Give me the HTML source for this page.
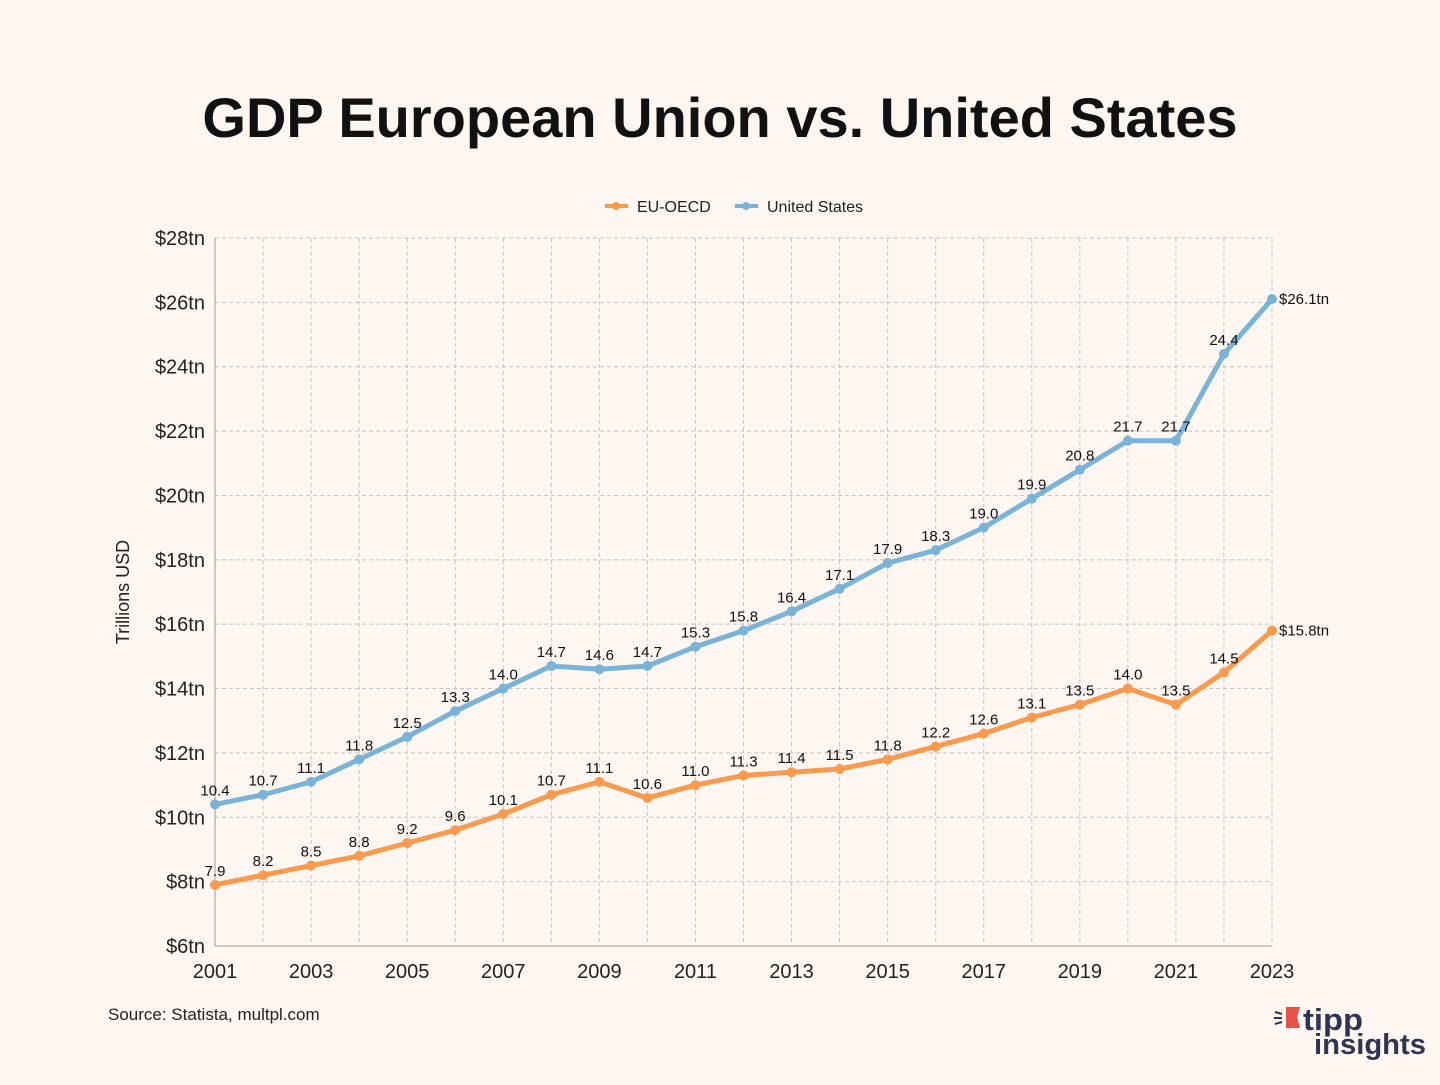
<!DOCTYPE html>
<html><head><meta charset="utf-8"><style>
body{margin:0;background:#fdf6f1;width:1440px;height:1080px;overflow:hidden;font-family:"Liberation Sans",sans-serif}
</style></head><body>
<svg id="c" width="1440" height="1080" xmlns="http://www.w3.org/2000/svg">
<rect width="1440" height="1080" fill="#fdf6f1"/>
<text x="720" y="137" text-anchor="middle" font-size="56" font-weight="bold" fill="#111">GDP European Union vs. United States</text>
<g>
<g><line x1="605" y1="206" x2="628" y2="206" stroke="#f99a4e" stroke-width="4"/><circle cx="616" cy="206" r="4" fill="#f99a4e"/><text x="637" y="212" font-size="16" fill="#222">EU-OECD</text></g>
<g><line x1="735" y1="206" x2="758" y2="206" stroke="#79b4d8" stroke-width="4"/><circle cx="746" cy="206" r="4" fill="#79b4d8"/><text x="767" y="212" font-size="16" fill="#222">United States</text></g>
</g>
<text transform="translate(129,592) rotate(-90)" text-anchor="middle" font-size="18" fill="#222">Trillions USD</text>
<text x="108" y="1020" font-size="17" fill="#222">Source: Statista, multpl.com</text>
<g>
<polygon points="1286,1007 1300,1007 1297,1017 1300,1028 1286,1028" fill="#e8504a"/>
<line x1="1275" y1="1012" x2="1282" y2="1014" stroke="#2f3452" stroke-width="2"/><line x1="1274" y1="1018" x2="1282" y2="1018" stroke="#2f3452" stroke-width="2"/><line x1="1275" y1="1024" x2="1282" y2="1022" stroke="#2f3452" stroke-width="2"/>
<text x="1303" y="1030" font-size="31" font-weight="bold" fill="#2f3452" textLength="60" lengthAdjust="spacingAndGlyphs">tipp</text>
<text x="1314" y="1054" font-size="29" font-weight="bold" fill="#2f3452" textLength="112" lengthAdjust="spacingAndGlyphs">insights</text>
</g>
<g id="plot"></g>
</svg>
<script>
const years=[2001,2002,2003,2004,2005,2006,2007,2008,2009,2010,2011,2012,2013,2014,2015,2016,2017,2018,2019,2020,2021,2022,2023];
const euValues=[7.9,8.2,8.5,8.8,9.2,9.6,10.1,10.7,11.1,10.6,11.0,11.3,11.4,11.5,11.8,12.2,12.6,13.1,13.5,14.0,13.5,14.5,15.8];
const usValues=[10.4,10.7,11.1,11.8,12.5,13.3,14.0,14.7,14.6,14.7,15.3,15.8,16.4,17.1,17.9,18.3,19.0,19.9,20.8,21.7,21.7,24.4,26.1];
const yTicks=[6,8,10,12,14,16,18,20,22,24,26,28];
const xTickYears=[2001,2003,2005,2007,2009,2011,2013,2015,2017,2019,2021,2023];
const NS="http://www.w3.org/2000/svg";
const X0=215,X1=1272,Y0=946,Y1=238;
const xs=y=>X0+(y-2001)*(X1-X0)/22;
const ys=v=>Y0-(v-6)*(Y0-Y1)/22;
const g=document.getElementById('plot');
function mk(t,a,p){const e=document.createElementNS(NS,t);for(const k in a)e.setAttribute(k,a[k]);(p||g).appendChild(e);return e;}
yTicks.forEach(v=>{
 const l=mk('line',{x1:X0,x2:X1,y1:ys(v),y2:ys(v),stroke:v===6?'#999':'#c8c4c0','stroke-dasharray':v===6?'':'4,3','stroke-width':1});
 
 
 const t=mk('text',{x:205,y:ys(v)+7,'text-anchor':'end','font-size':20,fill:'#222'});t.textContent='$'+v+'tn';
 
 
});
years.forEach(y=>{
 const l=mk('line',{x1:xs(y),x2:xs(y),y1:Y1,y2:Y0,stroke:y===2001?'#999':'#c8c4c0','stroke-dasharray':y===2001?'':'4,3','stroke-width':1});
 
 
});
xTickYears.forEach(y=>{
 const t=mk('text',{x:xs(y),y:978,'text-anchor':'middle','font-size':20,fill:'#222'});t.textContent=y;
 
 
});
function series(vals,color,name){
 const p=mk('polyline',{points:vals.map((v,i)=>xs(years[i])+','+ys(v)).join(' '),fill:'none',stroke:color,'stroke-width':5,'stroke-linejoin':'round'});
 
 
 vals.forEach((v,i)=>{
  const c=mk('circle',{cx:xs(years[i]),cy:ys(v),r:5,fill:color});
  
  
  const last=i===vals.length-1;
  const t=mk('text',last?{x:xs(years[i])+7,y:ys(v)+5,'font-size':15,fill:'#111'}:{x:xs(years[i]),y:ys(v)-9,'text-anchor':'middle','font-size':15,fill:'#111'});
  t.textContent=last?'$'+v.toFixed(1)+'tn':v.toFixed(1);
  
  
 });
}
series(euValues,'#f99a4e','eu');
series(usValues,'#79b4d8','us');
</script>
</body></html>
